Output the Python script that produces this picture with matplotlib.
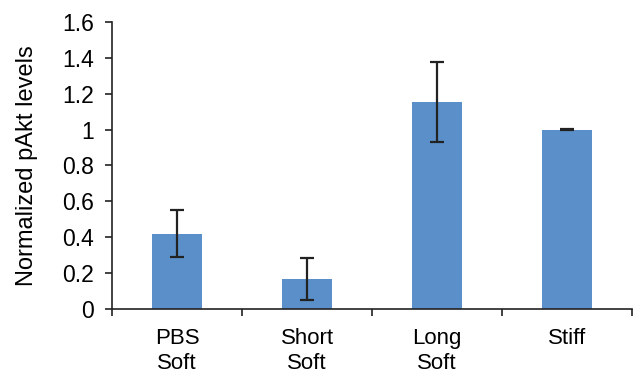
#!/usr/bin/env python

import numpy as np
import matplotlib.pyplot as plt

plt.rcParams['font.family'] = ['Liberation Sans', 'DejaVu Sans']

labels = ['PBS\nSoft', 'Short\nSoft', 'Long\nSoft', 'Stiff']
values = [0.42, 0.167, 1.154, 1.0]
errors = [0.13, 0.118, 0.222, 0.004]

fig = plt.figure(figsize=(6.34, 3.77), dpi=100)
ax = fig.add_axes([0.1767, 0.1804, 0.8203, 0.7613])

x = np.arange(len(values))
ax.bar(x, values, width=0.39, color='#5b8fca', zorder=2)
ax.errorbar(x, values, yerr=errors, fmt='none', ecolor='#222222',
            elinewidth=1.6, capsize=5, capthick=1.6, zorder=3)

ax.set_xlim(-0.5, 3.5)
ax.set_ylim(0, 1.6)

# y axis
yt = np.arange(0, 1.61, 0.2)
ax.set_yticks(yt)
ax.set_yticklabels(['0', '0.2', '0.4', '0.6', '0.8', '1', '1.2', '1.4', '1.6'])
ax.tick_params(axis='y', direction='out', length=5, width=1.2,
               color='#222222', labelsize=16.5, pad=8)
ax.set_ylabel('Normalized pAkt levels', fontsize=17)
ax.yaxis.set_label_coords(-0.142, 0.5)

# x axis: labels at centres, ticks at category edges
ax.set_xticks(x)
ax.set_xticklabels(labels, fontsize=16, linespacing=1.2)
ax.set_xticks(np.arange(-0.5, 3.6, 1), minor=True)
ax.tick_params(axis='x', which='major', length=0, pad=14)
ax.tick_params(axis='x', which='minor', direction='out', length=5,
               width=1.2, color='#222222')

for s in ['top', 'right']:
    ax.spines[s].set_visible(False)
for s in ['left', 'bottom']:
    ax.spines[s].set_color('#222222')
    ax.spines[s].set_linewidth(1.2)

plt.savefig('out.png', dpi=100)
